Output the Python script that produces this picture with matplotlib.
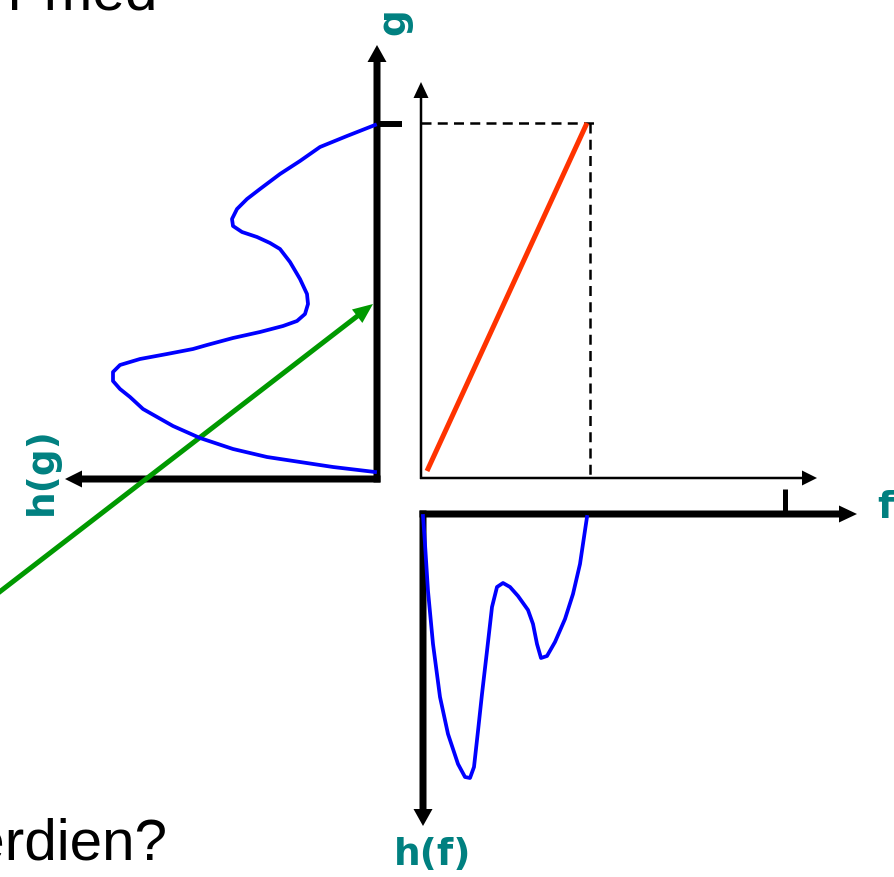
import matplotlib.pyplot as plt

# h(g): histogram of the output values g, drawn sideways (h grows to the left)
hg_g = [354, 343, 332, 318, 305, 290, 280, 270, 260, 253, 247, 242, 236, 230,
        217, 200, 185, 175, 165, 158, 153, 147, 141, 134, 130, 125, 120, 114,
        107, 98, 90, 82, 70, 53, 41, 30, 22, 17, 12, 7]
hg_h = [2, 30, 57, 77, 97, 117, 130, 140, 145, 144, 135, 120, 107, 97,
        87, 77, 70, 69, 72, 80, 94, 117, 144, 170, 184, 210, 237, 257,
        264, 264, 257, 247, 234, 204, 177, 144, 110, 77, 44, 2]

# h(f): histogram of the input values f, drawn downwards
hf_f = [0, 2, 5, 10, 17, 25, 35, 42, 47, 51, 55, 59, 64, 69, 74, 80, 87, 95,
        105, 110, 114, 118, 124, 132, 142, 150, 157, 164]
hf_h = [2, 30, 77, 130, 183, 220, 250, 263, 264, 253, 217, 180, 137, 93,
        73, 69, 73, 82, 96, 110, 130, 144, 142, 128, 105, 80, 50, 3]

# linear mapping g = T(f)
map_f = [6, 166]
map_g = [7, 355]
f_max = 169
g_max = 355

# where each panel sits on the canvas (pixels)
left_origin = (377, 480)
map_origin = (421, 479)
bottom_origin = (423, 515)

teal = "#008080"
label_font = dict(color=teal, fontsize=27, fontweight="bold", family="DejaVu Sans")
big_font = dict(color="black", fontsize=42, family=["Liberation Sans", "DejaVu Sans"])

fig = plt.figure(figsize=(8.95, 8.78), dpi=100)
fig.patch.set_facecolor("white")
ax = fig.add_axes([0, 0, 1, 1])
ax.set_xlim(0, 895)
ax.set_ylim(878, 0)
ax.axis("off")

# left panel: h(g)
lx, ly = left_origin
ax.arrow(lx, ly + 3.5, 0, 46 - ly - 3.5, width=7, head_width=19, head_length=17,
         length_includes_head=True, fc="black", ec="none")
ax.arrow(lx + 3.5, ly, 65 - lx - 3.5, 0, width=7, head_width=17, head_length=17,
         length_includes_head=True, fc="black", ec="none")
ax.plot([lx, lx + 25], [ly - g_max, ly - g_max], color="black", lw=4.3, solid_capstyle="butt")
ax.plot([lx - h for h in hg_h], [ly - g for g in hg_g], color="#0000ff", lw=2.7,
        solid_joinstyle="round")

# top right: mapping f -> g
mx, my = map_origin
ax.arrow(mx, my + 1, 0, 83 - my - 1, width=2.5, head_width=15, head_length=16,
         length_includes_head=True, fc="black", ec="none")
ax.arrow(mx - 1, my, 817 - mx + 1, 0, width=2.5, head_width=15, head_length=15,
         length_includes_head=True, fc="black", ec="none")
ax.plot([mx, mx + f_max + 5], [my - g_max, my - g_max], color="black", lw=1.8,
        linestyle=(0, (4, 2.5)))
ax.plot([mx + f_max, mx + f_max], [my - g_max, my], color="black", lw=1.8,
        linestyle=(0, (4, 2.5)))
ax.plot([mx + f for f in map_f], [my - g for g in map_g], color="#ff3300", lw=3.6,
        solid_capstyle="butt")

# bottom panel: h(f)
bx, by = bottom_origin
ax.arrow(bx - 3.5, by, 857 - bx + 3.5, 0, width=7, head_width=17, head_length=18,
         length_includes_head=True, fc="black", ec="none")
ax.arrow(bx, by - 3.5, 0, 827 - by + 3.5, width=7, head_width=19, head_length=17,
         length_includes_head=True, fc="black", ec="none")
ax.plot([785, 785], [490, by], color="black", lw=3.6, solid_capstyle="butt")
ax.plot([bx + f for f in hf_f], [by + h for h in hf_h], color="#0000ff", lw=2.7,
        solid_joinstyle="round")

# green pointer into the g axis
ax.arrow(-20, 608, 393, -303, width=5, head_width=17, head_length=20,
         length_includes_head=True, fc="#009900", ec="none")

# axis labels
ax.text(394, 22, "g", rotation=90, ha="center", va="center", **label_font)
ax.text(42, 471, "h(g)", rotation=90, ha="center", va="center", **label_font)
ax.text(885, 508, "f", ha="center", va="center", **label_font)
ax.text(433, 855, "h(f)", ha="center", va="center", **label_font)

# slide text cut by the frame
ax.text(157, 9, "r med", ha="right", va="baseline", **big_font)
ax.text(168, 860, "verdien?", ha="right", va="baseline", **big_font)

fig.savefig("out.png", dpi=100)
